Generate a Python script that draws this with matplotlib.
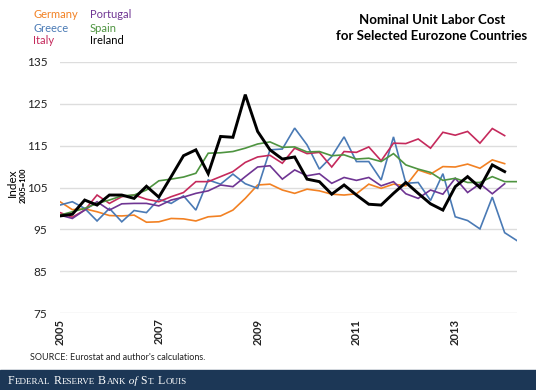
import matplotlib
matplotlib.use("Agg")
import matplotlib.pyplot as plt
import numpy as np

# quarterly index, 2005Q1 = first point (2005=100)
years = ["2005", "2007", "2009", "2011", "2013"]

germany = [101.6, 99.7, 99.9, 99.2, 98.3, 98.2, 98.4, 96.7, 96.8, 97.6, 97.5, 97.0,
           98.0, 98.2, 99.6, 102.4, 105.6, 105.8, 104.4, 103.6, 104.6, 104.2, 103.4,
           103.2, 103.5, 105.8, 104.8, 105.8, 105.4, 109.2, 108.2, 110.0, 109.9,
           110.6, 109.6, 111.6, 110.7]
greece = [100.8, 101.6, 100.0, 97.0, 100.0, 96.8, 99.5, 99.0, 102.2, 101.2, 103.0,
          99.6, 106.8, 105.8, 108.2, 105.9, 104.8, 114.0, 114.2, 119.2, 115.2, 109.4,
          112.4, 117.1, 111.2, 111.2, 106.8, 117.1, 106.0, 106.2, 101.9, 108.3, 98.0,
          97.1, 95.1, 102.7, 94.2, 92.3]
italy = [99.0, 97.9, 99.6, 103.2, 101.2, 102.8, 103.2, 102.2, 101.6, 102.8, 103.8,
         106.4, 106.4, 107.6, 108.8, 111.0, 112.3, 112.7, 110.8, 114.4, 113.1, 113.4,
         109.9, 113.6, 113.4, 114.7, 111.4, 115.6, 115.5, 116.6, 114.4, 118.2, 117.5,
         118.4, 115.6, 119.1, 117.4]
portugal = [98.4, 97.6, 99.6, 101.6, 99.6, 101.1, 101.2, 101.2, 100.6, 102.0, 102.7,
            103.6, 104.2, 105.6, 105.2, 107.6, 109.9, 110.2, 107.0, 109.2, 107.8, 108.3,
            106.0, 107.4, 106.7, 107.4, 105.4, 106.4, 103.5, 102.4, 104.4, 103.4, 107.2,
            103.8, 105.9, 103.5, 105.9]
spain = [98.4, 99.2, 100.0, 101.2, 102.0, 103.0, 103.2, 104.4, 106.6, 107.0, 107.5,
         108.4, 113.2, 113.3, 113.6, 114.4, 115.4, 115.9, 114.6, 114.7, 113.5, 113.6,
         112.6, 112.8, 111.8, 112.0, 111.2, 113.1, 110.4, 109.4, 108.6, 106.7, 107.2,
         106.2, 106.2, 107.6, 106.4, 106.4]
ireland = [98.2, 98.6, 102.0, 100.8, 103.2, 103.2, 102.4, 105.3, 102.7, 107.6, 112.6,
           114.0, 108.3, 117.2, 117.0, 127.2, 118.4, 114.0, 111.8, 112.3, 107.0, 106.4,
           103.4, 105.6, 103.2, 101.0, 100.8, 103.6, 106.2, 103.6, 101.1, 99.6, 105.2,
           107.6, 105.0, 110.4, 108.8]

series = [
    ("Germany", germany, "#f28123", 1.2),
    ("Greece", greece, "#4a7ab5", 1.2),
    ("Italy", italy, "#c52a5c", 1.2),
    ("Portugal", portugal, "#6f3593", 1.2),
    ("Spain", spain, "#4e9440", 1.2),
    ("Ireland", ireland, "#000000", 2.1),
]

plt.rcParams["font.family"] = ["Lato", "DejaVu Sans"]

W, H = 536, 390
fig = plt.figure(figsize=(W / 100, H / 100), dpi=100)
ax = fig.add_axes([60 / W, 1 - 313 / H, 457 / W, 251 / H])

for name, vals, color, lw in series:
    ax.plot(np.arange(len(vals)), vals, color=color, linewidth=lw,
            solid_joinstyle="miter")

ax.set_xlim(0, 37)
ax.set_ylim(75, 135)
ax.set_yticks(np.arange(75, 136, 10))
ax.set_xticks(np.arange(len(years)) * 8)
ax.set_xticklabels(years, rotation=90, fontsize=8, fontweight="bold", color="#222222")
ax.tick_params(axis="both", length=0)
ax.tick_params(axis="y", labelsize=8.5, pad=9, labelcolor="#222222")
ax.tick_params(axis="x", pad=4)
ax.grid(axis="y", color="#dddddd", linewidth=1)
ax.set_axisbelow(True)
for s in ax.spines.values():
    s.set_visible(False)

# y label
fig.text(12 / W, 1 - 183 / H, "Index", rotation=90, fontsize=8.5,
         ha="center", va="center")
fig.text(23 / W, 1 - 185 / H, "2005=100", rotation=90, fontsize=5.5,
         fontweight="bold", ha="center", va="center")

# title
fig.text(432 / W, 1 - 28 / H, "Nominal Unit Labor Cost\nfor Selected Eurozone Countries",
         ha="center", va="center", fontsize=9.5, fontweight="bold", linespacing=1.35)

# colored text legend
legend_pos = [(33, 15), (33, 28), (33, 41), (90, 15), (90, 28), (90, 41)]
for (name, vals, color, lw), (lx, ly) in zip(series, legend_pos):
    fig.text(lx / W, 1 - ly / H, name, color=color, fontsize=8,
             ha="left", va="center")

fig.text(30 / W, 1 - 357 / H, "SOURCE: Eurostat and author's calculations.",
         fontsize=6.5, ha="left", va="center", color="#222222")

# footer banner with small-caps wordmark
fig.patches.append(plt.Rectangle((0, 0), 1, 20 / H, transform=fig.transFigure,
                                 color="#1c3756", zorder=0))
serif = ["Liberation Serif", "DejaVu Serif"]
pieces = [("F", 8.5, "normal"), ("EDERAL", 6.5, "normal"), (" R", 8.5, "normal"),
          ("ESERVE", 6.5, "normal"), (" B", 8.5, "normal"), ("ANK", 6.5, "normal"),
          (" of", 8, "italic"), (" S", 8.5, "normal"), ("T.", 6.5, "normal"),
          (" L", 8.5, "normal"), ("OUIS", 6.5, "normal")]
renderer = fig.canvas.get_renderer()
xpix = 8
for txt, size, style in pieces:
    t = fig.text(xpix / W, 6 / H, txt, fontsize=size, style=style, color="white",
                 family=serif, ha="left", va="baseline")
    xpix += t.get_window_extent(renderer).width + 0.3

fig.savefig("out.png", dpi=100)
